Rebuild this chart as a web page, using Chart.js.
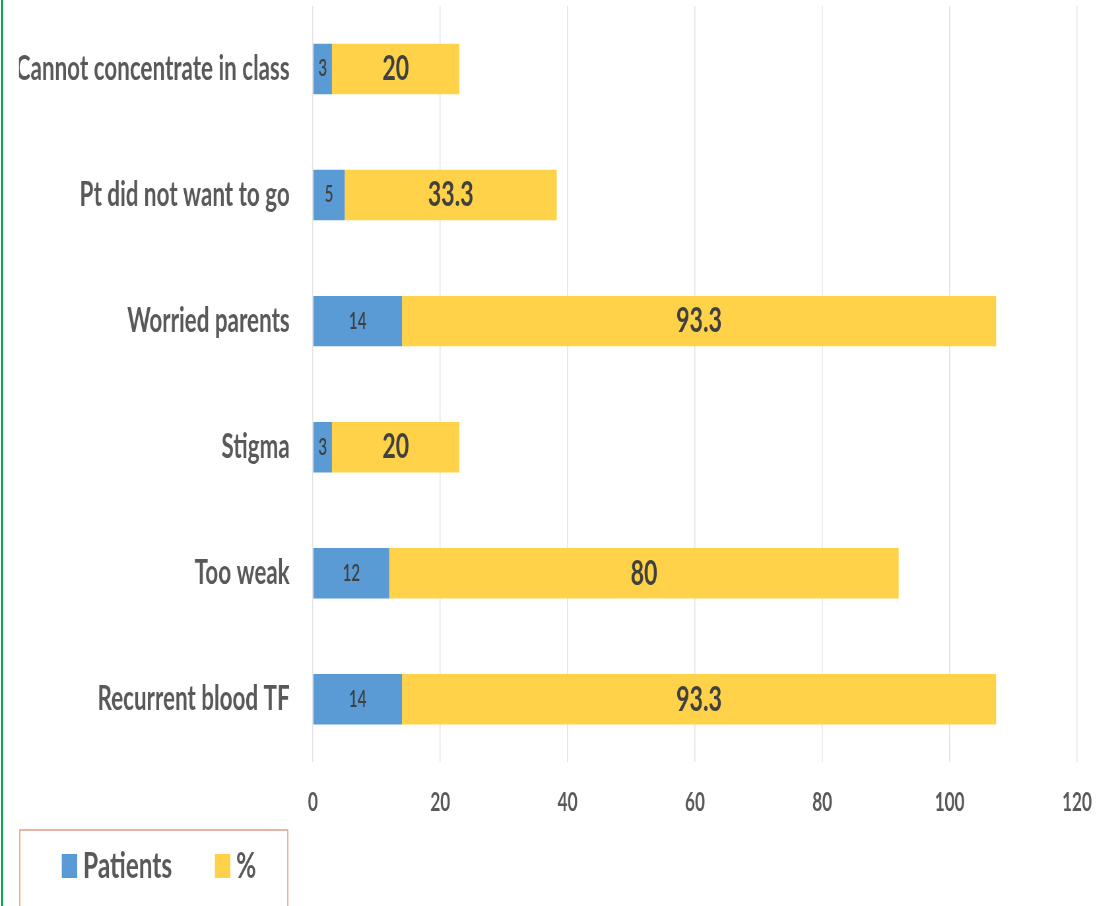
<!DOCTYPE html>
<html>
<head>
<meta charset="utf-8">
<script src="https://cdn.jsdelivr.net/npm/chart.js@4.4.1/dist/chart.umd.min.js"></script>
<style>
  html, body { margin: 0; padding: 0; background: #fff; overflow: hidden; }
  #marcoVerde { position: absolute; left: 1px; top: 0; width: 2px; height: 906px; background: #00b050; }
  #contenedor { position: absolute; left: 0; top: 0; transform-origin: 0 0; }
</style>
</head>
<body>
<div id="marcoVerde"></div>
<div id="contenedor">
  <canvas id="graficoMotivos"></canvas>
</div>
<script>
// Motivos de ausencia escolar
const categorias = [
  "Cannot concentrate in class",
  "Pt did not want to go",
  "Worried parents",
  "Stigma",
  "Too weak",
  "Recurrent blood TF"
];
const pacientes = [3, 5, 14, 3, 12, 14];
const porcentaje = [20, 33.3, 93.3, 20, 80, 93.3];

const ejeMin = 0;
const ejeMax = 120;
const ejePaso = 20;

const colorPacientes = "#5b9bd5";
const colorPorcentaje = "#ffd24a";

// el texto original es muy angosto, se comprime todo el canvas en horizontal
const escalaX = 0.66;
const anchoCanvas = Math.round(1097 / escalaX);
const altoCanvas = 906;

var canvas = document.getElementById("graficoMotivos");
canvas.width = anchoCanvas;
canvas.height = altoCanvas;
canvas.style.width = anchoCanvas + "px";
canvas.style.height = altoCanvas + "px";
document.getElementById("contenedor").style.transform = "scaleX(" + escalaX + ")";

const fuente = "Lato";

// cuadrito de la leyenda con espacio libre a la izquierda (separa los items)
function cuadroLeyenda(color) {
  var c = document.createElement("canvas");
  c.width = 68;
  c.height = 24;
  var g = c.getContext("2d");
  g.fillStyle = color;
  g.fillRect(c.width - 23, 0, 23, 24);
  return c;
}
const cuadros = [cuadroLeyenda(colorPacientes), cuadroLeyenda(colorPorcentaje)];

// Escribe el valor en el centro de cada barra
const etiquetasDatos = {
  id: "etiquetasDatos",
  afterDatasetsDraw(chart) {
    const ctx = chart.ctx;
    chart.data.datasets.forEach(function(ds, i) {
      const meta = chart.getDatasetMeta(i);
      meta.data.forEach(function(barra, j) {
        const p = barra.getCenterPoint();
        ctx.save();
        ctx.fillStyle = "#404040";
        ctx.font = ds.etiquetaPeso + " " + ds.etiquetaTam + "px " + fuente;
        ctx.textAlign = "center";
        ctx.textBaseline = "middle";
        ctx.fillText(ds.data[j], p.x, p.y);
        ctx.restore();
      });
    });
  }
};

// Recuadro alrededor de la leyenda
const marcoLeyenda = {
  id: "marcoLeyenda",
  afterDraw(chart) {
    const ctx = chart.ctx;
    ctx.save();
    ctx.strokeStyle = "#e4a08e";
    ctx.lineWidth = 1.6;
    ctx.strokeRect(30, 830, 406, 120);
    ctx.restore();
  }
};

var graficoMotivos = new Chart(canvas.getContext("2d"), {
  type: "bar",
  data: {
    labels: categorias,
    datasets: [
      {
        label: "Patients",
        data: pacientes,
        backgroundColor: colorPacientes,
        etiquetaTam: 23,
        etiquetaPeso: "600"
      },
      {
        label: "%",
        data: porcentaje,
        backgroundColor: colorPorcentaje,
        etiquetaTam: 35,
        etiquetaPeso: "bold"
      }
    ]
  },
  options: {
    indexAxis: "y",
    responsive: false,
    animation: false,
    devicePixelRatio: 1,
    datasets: {
      bar: { categoryPercentage: 1, barPercentage: 0.4 }
    },
    layout: {
      padding: { left: 28.8, right: 30.2, top: 6, bottom: 11.5 }
    },
    plugins: {
      tooltip: { enabled: false },
      legend: {
        position: "bottom",
        align: "start",
        labels: {
          usePointStyle: true,
          pointStyleWidth: 49.5,
          padding: 29,
          color: "#595959",
          font: { family: fuente, size: 37, weight: "bold" },
          generateLabels: function(chart) {
            var items = Chart.defaults.plugins.legend.labels.generateLabels(chart);
            items.forEach(function(item, i) { item.pointStyle = cuadros[i]; });
            return items;
          }
        }
      }
    },
    scales: {
      x: {
        stacked: true,
        min: ejeMin,
        max: ejeMax,
        border: { display: false },
        grid: { color: "#e3e3e3", lineWidth: 1.5, drawTicks: true, tickLength: 25, tickColor: "rgba(0,0,0,0)" },
        ticks: {
          stepSize: ejePaso,
          padding: 0,
          color: "#595959",
          font: { family: fuente, size: 26, weight: "bold" }
        }
      },
      y: {
        stacked: true,
        border: { display: false },
        grid: { display: false, drawTicks: true, tickLength: 35 },
        ticks: {
          padding: 0,
          color: "#595959",
          font: { family: fuente, size: 34, weight: "bold", lineHeight: 0.3 }
        },
        afterFit: function(scale) { scale.width = 445.2; }
      }
    }
  },
  plugins: [etiquetasDatos, marcoLeyenda]
});
</script>
</body>
</html>
